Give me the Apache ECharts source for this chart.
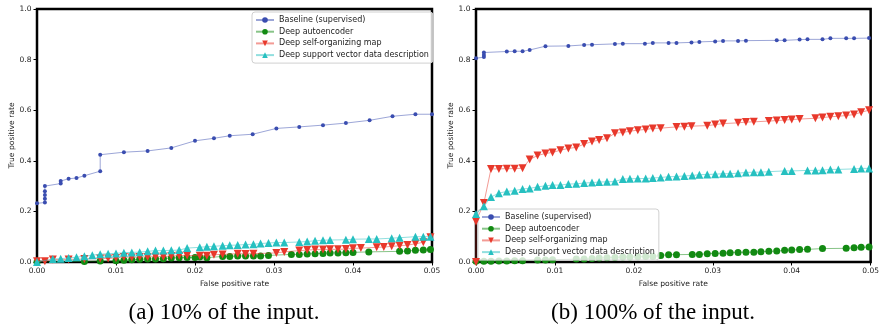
<!DOCTYPE html>
<html>
<head>
<meta charset="utf-8">
<script src="https://cdn.jsdelivr.net/npm/echarts@6/dist/echarts.min.js"></script>
<style>
html,body{margin:0;padding:0;background:#fff;}
#chart{width:882px;height:329px;}
</style>
</head>
<body>
<div id="chart"></div>
<script>
// ---------- DATA ----------
var seriesNames = ['Baseline (supervised)', 'Deep autoencoder', 'Deep self-organizing map', 'Deep support vector data description'];
var xTicks = [0, 0.01, 0.02, 0.03, 0.04, 0.05];
var yTicks = [0, 0.2, 0.4, 0.6, 0.8, 1.0];
var captionA = '(a) 10% of the input.';
var captionB = '(b) 100% of the input.';
var xTitle = 'False positive rate';
var yTitle = 'True positive rate';

// (a) 10% of the input
var aBaseFpr = [0, 0.001, 0.001, 0.001, 0.001, 0.001, 0.003, 0.003, 0.004, 0.005, 0.006, 0.008, 0.008, 0.011, 0.014, 0.017, 0.020, 0.0224, 0.0244, 0.0273, 0.0303, 0.0332, 0.0362, 0.0391, 0.0421, 0.045, 0.0479, 0.05];
var aBaseTpr = [0.232, 0.235, 0.25, 0.265, 0.28, 0.30, 0.31, 0.32, 0.329, 0.332, 0.341, 0.359, 0.424, 0.434, 0.439, 0.451, 0.479, 0.489, 0.499, 0.505, 0.528, 0.534, 0.541, 0.549, 0.560, 0.576, 0.584, 0.584];

var aAeFpr = [0, 0.006, 0.008, 0.010, 0.011, 0.012, 0.013, 0.014, 0.015, 0.016, 0.017, 0.018, 0.019, 0.020, 0.0206, 0.0215, 0.0235, 0.0244, 0.0254, 0.0264, 0.0274, 0.0283, 0.0293, 0.0322, 0.0332, 0.0342, 0.0352, 0.0362, 0.0371, 0.0381, 0.0391, 0.0400, 0.0420, 0.0459, 0.0469, 0.0479, 0.0489, 0.0498];
var aAeTpr = [0, 0.002, 0.004, 0.005, 0.007, 0.009, 0.011, 0.012, 0.012, 0.013, 0.016, 0.017, 0.018, 0.018, 0.020, 0.017, 0.022, 0.022, 0.024, 0.024, 0.024, 0.024, 0.026, 0.030, 0.030, 0.032, 0.033, 0.034, 0.036, 0.036, 0.037, 0.038, 0.040, 0.042, 0.043, 0.046, 0.047, 0.049];

var aSomFpr = [0, 0.001, 0.002, 0.004, 0.006, 0.008, 0.009, 0.010, 0.011, 0.012, 0.013, 0.014, 0.015, 0.016, 0.017, 0.018, 0.019, 0.0206, 0.0215, 0.0224, 0.0235, 0.0254, 0.0264, 0.0274, 0.0303, 0.0313, 0.0332, 0.0342, 0.0352, 0.0362, 0.0371, 0.0381, 0.0391, 0.0400, 0.0410, 0.0430, 0.0439, 0.0449, 0.0459, 0.0469, 0.0479, 0.0489, 0.0498];
var aSomTpr = [0.003, 0.003, 0.010, 0.010, 0.012, 0.014, 0.014, 0.016, 0.020, 0.018, 0.020, 0.020, 0.021, 0.021, 0.024, 0.025, 0.026, 0.025, 0.025, 0.029, 0.030, 0.033, 0.032, 0.033, 0.036, 0.040, 0.045, 0.047, 0.049, 0.049, 0.050, 0.050, 0.051, 0.054, 0.055, 0.058, 0.059, 0.062, 0.064, 0.067, 0.072, 0.078, 0.098];

var aSvddFpr = [0, 0.002, 0.003, 0.004, 0.005, 0.006, 0.007, 0.008, 0.009, 0.010, 0.011, 0.012, 0.013, 0.014, 0.015, 0.016, 0.017, 0.018, 0.019, 0.0206, 0.0215, 0.0224, 0.0235, 0.0244, 0.0254, 0.0264, 0.0274, 0.0283, 0.0293, 0.0303, 0.0313, 0.0332, 0.0342, 0.0352, 0.0362, 0.0371, 0.0391, 0.0400, 0.0420, 0.0430, 0.0449, 0.0459, 0.0479, 0.0489, 0.0498];
var aSvddTpr = [0, 0.012, 0.013, 0.016, 0.019, 0.023, 0.027, 0.031, 0.033, 0.034, 0.037, 0.038, 0.039, 0.042, 0.045, 0.045, 0.046, 0.047, 0.055, 0.058, 0.0606, 0.062, 0.0645, 0.066, 0.067, 0.069, 0.070, 0.073, 0.075, 0.077, 0.077, 0.079, 0.081, 0.084, 0.086, 0.087, 0.088, 0.090, 0.091, 0.091, 0.094, 0.096, 0.100, 0.100, 0.100];

// (b) 100% of the input
var bBaseFpr = [0, 0.001, 0.001, 0.001, 0.0039, 0.0049, 0.0059, 0.0068, 0.0088, 0.0117, 0.0137, 0.0147, 0.0176, 0.0186, 0.0214, 0.0224, 0.0244, 0.0254, 0.0273, 0.0283, 0.0303, 0.0313, 0.0332, 0.0342, 0.0381, 0.0391, 0.0410, 0.0420, 0.0439, 0.0449, 0.0469, 0.0479, 0.0498];
var bBaseTpr = [0.805, 0.81, 0.818, 0.828, 0.832, 0.833, 0.833, 0.838, 0.853, 0.854, 0.858, 0.859, 0.862, 0.863, 0.863, 0.866, 0.866, 0.866, 0.868, 0.870, 0.872, 0.874, 0.874, 0.875, 0.876, 0.876, 0.879, 0.880, 0.880, 0.884, 0.884, 0.884, 0.885];

var bAeFpr = [0, 0.001, 0.0019, 0.0029, 0.0039, 0.0049, 0.0059, 0.0078, 0.0088, 0.0097, 0.0127, 0.0137, 0.0147, 0.0156, 0.0166, 0.0176, 0.0186, 0.0195, 0.0205, 0.0215, 0.0224, 0.0234, 0.0244, 0.0254, 0.0274, 0.0283, 0.0293, 0.0303, 0.0313, 0.0322, 0.0332, 0.0342, 0.0352, 0.0361, 0.0371, 0.0381, 0.0391, 0.0400, 0.0410, 0.0420, 0.0439, 0.0469, 0.0479, 0.0488, 0.0498];
var bAeTpr = [0.003, 0.003, 0.003, 0.004, 0.004, 0.005, 0.005, 0.008, 0.008, 0.009, 0.012, 0.012, 0.014, 0.016, 0.017, 0.018, 0.020, 0.020, 0.021, 0.022, 0.022, 0.026, 0.029, 0.029, 0.030, 0.030, 0.033, 0.034, 0.035, 0.037, 0.038, 0.039, 0.039, 0.041, 0.042, 0.043, 0.046, 0.047, 0.049, 0.050, 0.053, 0.054, 0.056, 0.058, 0.059];

var bSomFpr = [0, 0, 0.001, 0.0019, 0.0029, 0.0039, 0.0049, 0.0059, 0.0068, 0.0078, 0.0088, 0.0097, 0.0107, 0.0117, 0.0127, 0.0137, 0.0147, 0.0156, 0.0166, 0.0176, 0.0186, 0.0195, 0.0205, 0.0215, 0.0224, 0.0234, 0.0254, 0.0264, 0.0273, 0.0293, 0.0303, 0.0313, 0.0332, 0.0342, 0.0352, 0.0371, 0.0381, 0.0391, 0.0400, 0.0410, 0.0430, 0.0439, 0.0449, 0.0459, 0.0469, 0.0479, 0.0488, 0.0498];
var bSomTpr = [0, 0.16, 0.233, 0.368, 0.368, 0.369, 0.369, 0.371, 0.405, 0.421, 0.429, 0.433, 0.442, 0.449, 0.453, 0.466, 0.476, 0.482, 0.489, 0.509, 0.512, 0.517, 0.521, 0.524, 0.528, 0.529, 0.534, 0.535, 0.537, 0.539, 0.543, 0.547, 0.550, 0.553, 0.554, 0.557, 0.559, 0.561, 0.563, 0.565, 0.568, 0.571, 0.574, 0.576, 0.579, 0.583, 0.592, 0.600];

var bSvddFpr = [0, 0.001, 0.0019, 0.0029, 0.0039, 0.0049, 0.0059, 0.0068, 0.0078, 0.0088, 0.0097, 0.0107, 0.0117, 0.0127, 0.0137, 0.0147, 0.0156, 0.0166, 0.0176, 0.0186, 0.0195, 0.0205, 0.0215, 0.0224, 0.0234, 0.0244, 0.0254, 0.0264, 0.0274, 0.0283, 0.0293, 0.0303, 0.0313, 0.0322, 0.0332, 0.0342, 0.0352, 0.0361, 0.0371, 0.0391, 0.0400, 0.0420, 0.0430, 0.0439, 0.0449, 0.0459, 0.0479, 0.0488, 0.0498];
var bSvddTpr = [0.19, 0.22, 0.257, 0.272, 0.279, 0.282, 0.289, 0.291, 0.297, 0.301, 0.304, 0.304, 0.308, 0.309, 0.312, 0.314, 0.316, 0.317, 0.318, 0.328, 0.329, 0.330, 0.330, 0.332, 0.334, 0.337, 0.338, 0.340, 0.342, 0.345, 0.346, 0.347, 0.349, 0.349, 0.351, 0.354, 0.355, 0.355, 0.357, 0.360, 0.360, 0.362, 0.362, 0.363, 0.366, 0.366, 0.368, 0.370, 0.370];

// ---------- STYLES ----------
var colors = ['#3a4db0', '#128a12', '#e8382b', '#26c0c0'];
var symbols = ['circle', 'circle', 'triangle', 'triangle'];
var symbolRot = [0, 0, 180, 0];
var symbolSizes = [4, 7, 8, 8];

function zip(xs, ys) { return xs.map(function (x, i) { return [x, ys[i]]; }); }

function makeSeries(idx, k, fpr, tpr) {
  return {
    type: 'line', name: seriesNames[k], xAxisIndex: idx, yAxisIndex: idx,
    data: zip(fpr, tpr),
    symbol: symbols[k], symbolSize: symbolSizes[k], symbolRotate: symbolRot[k],
    showSymbol: true, clip: true,
    lineStyle: { color: colors[k], width: 1, opacity: 0.5 },
    itemStyle: { color: colors[k], borderColor: colors[k], borderWidth: 0 },
    emphasis: { disabled: true },
    z: 2 + k
  };
}

var font = 'DejaVu Sans';
function xAxis(gi) {
  return {
    type: 'value', gridIndex: gi, min: 0, max: 0.05, interval: 0.01,
    name: xTitle, nameLocation: 'middle', nameGap: 15,
    nameTextStyle: { fontFamily: font, fontSize: 7.6, color: '#222' },
    axisLine: { show: false },
    axisTick: { show: true, inside: false, length: 3.5, lineStyle: { color: '#000', width: 1 } },
    axisLabel: { fontFamily: font, fontSize: 7.5, color: '#222', margin: 5, formatter: function (v) { return v.toFixed(2); } },
    splitLine: { show: false }
  };
}
function yAxis(gi) {
  return {
    type: 'value', gridIndex: gi, min: 0, max: 1, interval: 0.2,
    name: yTitle, nameLocation: 'middle', nameGap: 20.5, nameRotate: 90,
    nameTextStyle: { fontFamily: font, fontSize: 7.6, color: '#222' },
    axisLine: { show: false },
    axisTick: { show: true, inside: false, length: 3.5, lineStyle: { color: '#000', width: 1 } },
    axisLabel: { fontFamily: font, fontSize: 7.5, color: '#222', margin: 5.5, formatter: function (v) { return v.toFixed(1); } },
    splitLine: { show: false }
  };
}

var series = [
  makeSeries(0, 0, aBaseFpr, aBaseTpr),
  makeSeries(0, 1, aAeFpr, aAeTpr),
  makeSeries(0, 2, aSomFpr, aSomTpr),
  makeSeries(0, 3, aSvddFpr, aSvddTpr),
  makeSeries(1, 0, bBaseFpr, bBaseTpr),
  makeSeries(1, 1, bAeFpr, bAeTpr),
  makeSeries(1, 2, bSomFpr, bSomTpr),
  makeSeries(1, 3, bSvddFpr, bSvddTpr)
];

function legend(left, top) {
  return {
    orient: 'vertical', left: left, top: top, data: seriesNames,
    backgroundColor: 'rgba(255,255,255,0.8)', borderColor: '#d0d0d0', borderWidth: 1, borderRadius: 3,
    padding: [3, 4, 3, 3], itemWidth: 18, itemHeight: 7, itemGap: 1.7,
    textStyle: { fontFamily: font, fontSize: 8, color: '#222', lineHeight: 10 },
    selectedMode: false
  };
}

var chart = echarts.init(document.getElementById('chart'), null, { renderer: 'canvas' });
chart.setOption({
  animation: false,
  backgroundColor: '#fff',
  grid: [
    { left: 37, right: 450, top: 9, bottom: 67, show: true, borderColor: '#000', borderWidth: 2.5, backgroundColor: 'transparent' },
    { left: 476, right: 10, top: 9, bottom: 67, show: true, borderColor: '#000', borderWidth: 2.5, backgroundColor: 'transparent' }
  ],
  xAxis: [xAxis(0), xAxis(1)],
  yAxis: [yAxis(0), yAxis(1)],
  legend: [legend(252, 12), legend(478, 209)],
  series: series,
  graphic: [
    { type: 'text', x: 224, y: 313, style: { text: captionA, font: '23px "Liberation Serif"', fill: '#000', align: 'center', verticalAlign: 'middle' } },
    { type: 'text', x: 653, y: 313, style: { text: captionB, font: '23px "Liberation Serif"', fill: '#000', align: 'center', verticalAlign: 'middle' } }
  ]
});
</script>
</body>
</html>
